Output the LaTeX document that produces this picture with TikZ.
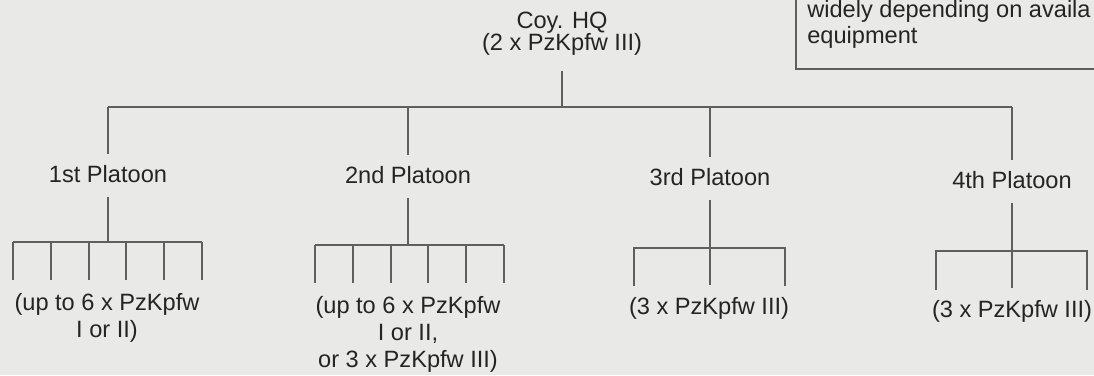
\documentclass[tikz,border=0pt]{standalone}
\usepackage{fontspec}
\setmainfont{Liberation Sans}
\definecolor{paper}{RGB}{233,233,231}
\definecolor{ink}{RGB}{36,36,36}
\definecolor{rulegray}{RGB}{95,95,95}
\begin{document}
\begin{tikzpicture}[x=0.75pt,y=-0.75pt,
  lbl/.style={inner sep=0pt, font=\fontsize{17.7}{20.25}\selectfont, text=ink, align=center},
  ln/.style={draw=rulegray, line width=1pt}]
\useasboundingbox (0,0) rectangle (1094,375);
\fill[paper] (0,0) rectangle (1094,375);
\clip (0,0) rectangle (1094,375);

% note box (clipped at the top right)
\draw[ln] (796,-20) -- (796,69) -- (1120,69);
\node[lbl, anchor=base west, align=left, font=\fontsize{17.7}{18.8}\selectfont] (note) at (807,43) {widely depending on availa\\equipment};

% company HQ
\node[lbl, anchor=base, font=\fontsize{17.7}{16.5}\selectfont] (hq) at (562,50) {Coy. HQ\\(2 x PzKpfw III)};
\coordinate (j0) at (562,107);
\coordinate (j1) at (108,107);
\coordinate (j2) at (408,107);
\coordinate (j3) at (710,107);
\coordinate (j4) at (1012,107);
\draw[ln] (j1) -- (j4);
\draw[ln, shorten <=12pt] (hq.south) -- (j0);

% platoons
\node[lbl, anchor=base] (p1) at (108,182) {1st Platoon};
\node[lbl, anchor=base] (p2) at (408,183) {2nd Platoon};
\node[lbl, anchor=base] (p3) at (710,185) {3rd Platoon};
\node[lbl, anchor=base] (p4) at (1012,188) {4th Platoon};
\foreach \i in {1,2,3,4} \draw[ln, shorten >=8pt] (j\i) -- (j\i -| p\i.north) -- (p\i.north);

% 1st platoon
\coordinate (s1) at (108,242);
\draw[ln, shorten <=11pt] (p1.south) -- (s1);
\draw[ln] (13,242) -- (202,242);
\foreach \x in {13,51,89,126,164,202} \draw[ln] (\x,242) -- (\x,280);
\node[lbl, anchor=base] (t1) at (107,337) {(up to 6 x PzKpfw\\I or II)};

% 2nd platoon
\coordinate (s2) at (408,245);
\draw[ln, shorten <=11pt] (p2.south) -- (s2);
\draw[ln] (315,245) -- (504,245);
\foreach \x in {315,353,391,428,466,504} \draw[ln] (\x,245) -- (\x,283);
\node[lbl, anchor=base] (t2) at (408,367) {(up to 6 x PzKpfw\\I or II,\\or 3 x PzKpfw III)};

% 3rd platoon
\node[lbl, anchor=base] (t3) at (709,314) {(3 x PzKpfw III)};
\draw[ln, shorten <=11pt, shorten >=9pt] (p3.south) -- (p3.south |- t3.north);
\draw[ln] (634,286) -- (634,248) -- (785,248) -- (785,286);

% 4th platoon
\node[lbl, anchor=base] (t4) at (1012,317) {(3 x PzKpfw III)};
\draw[ln, shorten <=11pt, shorten >=9pt] (p4.south) -- (p4.south |- t4.north);
\draw[ln] (936,290) -- (936,251) -- (1087,251) -- (1087,290);
\end{tikzpicture}
\end{document}
